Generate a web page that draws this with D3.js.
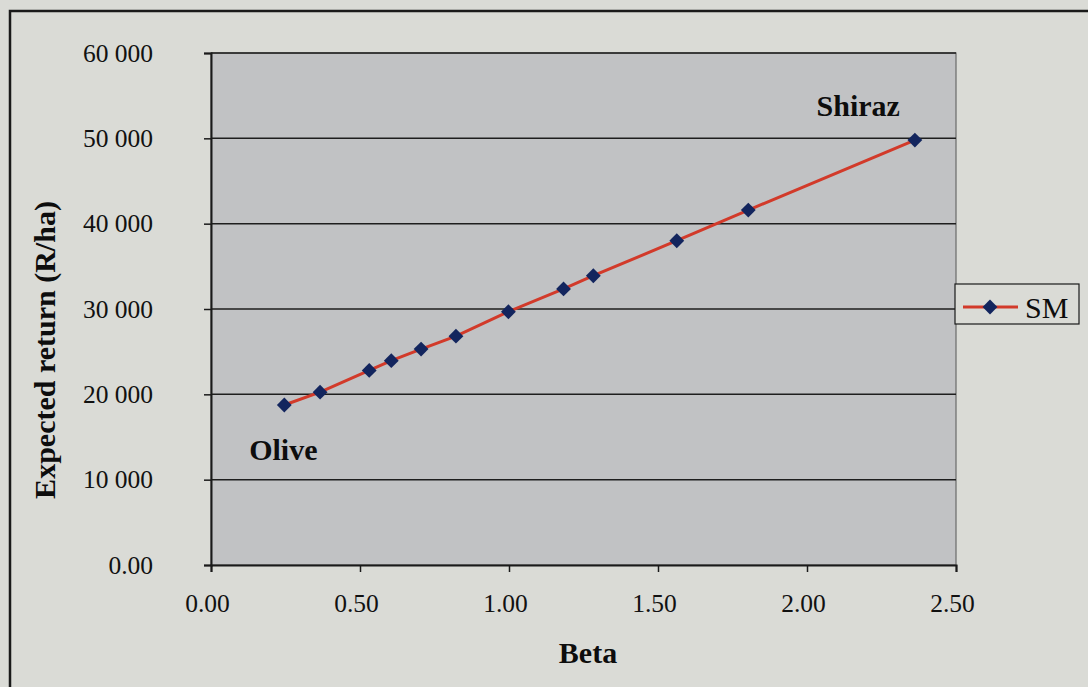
<!DOCTYPE html>
<html><head><meta charset="utf-8">
<script src="https://cdn.jsdelivr.net/npm/d3@7"></script>
<style>html,body{margin:0;padding:0;background:#d9dad6;}svg{display:block;}</style>
</head><body>
<svg id="chart" width="1088" height="687"></svg>
<script>
const betas   = [0.246, 0.366, 0.531, 0.605, 0.705, 0.822, 0.998, 1.183, 1.283, 1.563, 1.803, 2.362];
const returns = [18750, 20250, 22800, 23950, 25300, 26820, 29680, 32350, 33900, 38000, 41590, 49800];
const yTicks = [0, 10000, 20000, 30000, 40000, 50000, 60000];
const xTicks = [0, 0.5, 1.0, 1.5, 2.0, 2.5];
const seriesName = "SM";
const labels = [{text:"Olive", beta:0.128, ret:12350}, {text:"Shiraz", beta:2.032, ret:52600}];

const svg = d3.select("#chart");
const W = 1088, H = 687;
const m = {left:211, top:53, right:956, bottom:565};
const x = d3.scaleLinear().domain([0, 2.5]).range([m.left, m.right]);
const y = d3.scaleLinear().domain([0, 60000]).range([m.bottom, m.top]);

// outer frame
svg.append("rect").attr("x",0).attr("y",0).attr("width",W).attr("height",H).attr("fill","#dadbd6");
svg.append("rect").attr("x",10).attr("y",11).attr("width",W+20).attr("height",H+20)
  .attr("fill","none").attr("stroke","#1a1a1a").attr("stroke-width",2.5);

// plot area
svg.append("rect").attr("x",m.left).attr("y",m.top).attr("width",m.right-m.left).attr("height",m.bottom-m.top)
  .attr("fill","#c1c2c4").attr("stroke","#6a6a6a").attr("stroke-width",1.2);

// gridlines
svg.append("g").selectAll("line").data(yTicks.filter(d=>d>0)).join("line")
  .attr("x1",m.left).attr("x2",m.right).attr("y1",d=>y(d)).attr("y2",d=>y(d))
  .attr("stroke","#1e1e1e").attr("stroke-width",1.5);

const fmtY = d => d===0 ? "0.00" : d3.format(",")(d).replace(/,/g," ");
const yAxis = svg.append("g").attr("transform",`translate(${m.left},0)`)
  .call(d3.axisLeft(y).tickValues(yTicks).tickFormat(fmtY).tickSize(7).tickPadding(51));
const xAxis = svg.append("g").attr("transform",`translate(0,${m.bottom})`)
  .call(d3.axisBottom(x).tickValues(xTicks).tickFormat(d3.format(".2f")).tickSize(7).tickPadding(22));
[yAxis, xAxis].forEach(a=>{
  a.select(".domain").attr("stroke","#1a1a1a").attr("stroke-width",2);
  a.selectAll(".tick line").attr("stroke","#1a1a1a").attr("stroke-width",1.5);
  a.selectAll("text").attr("font-family","'Liberation Serif', serif").attr("font-size",25.5).attr("fill","#111");
});
xAxis.selectAll(".tick text").attr("dx",-4);

// series
const pts = betas.map((b,i)=>[b, returns[i]]);
svg.append("path").datum(pts)
  .attr("d", d3.line().x(d=>x(d[0])).y(d=>y(d[1])))
  .attr("fill","none").attr("stroke","#d23a2a").attr("stroke-width",3);
const diamond = d3.symbol().type(d3.symbolDiamond2).size(140);
svg.append("g").selectAll("path").data(pts).join("path")
  .attr("transform",d=>`translate(${x(d[0])},${y(d[1])})`)
  .attr("d",diamond).attr("fill","#13255e");

// annotations
svg.append("g").selectAll("text").data(labels).join("text")
  .attr("x",d=>x(d.beta)).attr("y",d=>y(d.ret))
  .attr("font-family","'Liberation Serif', serif").attr("font-weight","bold").attr("font-size",30).attr("fill","#0d0d0d")
  .text(d=>d.text);

// axis titles
svg.append("text").attr("x",588).attr("y",663).attr("text-anchor","middle")
  .attr("font-family","'Liberation Serif', serif").attr("font-weight","bold").attr("font-size",30).attr("fill","#0d0d0d")
  .text("Beta");
svg.append("text").attr("transform","translate(55,350) rotate(-90)").attr("text-anchor","middle")
  .attr("font-family","'Liberation Serif', serif").attr("font-weight","bold").attr("font-size",30).attr("fill","#0d0d0d")
  .text("Expected return (R/ha)");

// legend
const lg = svg.append("g").attr("transform","translate(955,284)");
lg.append("rect").attr("width",124).attr("height",40).attr("fill","#dadbd6").attr("stroke","#1a1a1a").attr("stroke-width",1.2);
lg.append("line").attr("x1",8).attr("x2",63).attr("y1",23).attr("y2",23).attr("stroke","#d23a2a").attr("stroke-width",3);
lg.append("path").attr("transform","translate(35,23)").attr("d",diamond).attr("fill","#13255e");
lg.append("text").attr("x",70).attr("y",34).attr("font-family","'Liberation Serif', serif").attr("font-size",30).attr("fill","#0d0d0d").text(seriesName);
</script>
</body></html>
